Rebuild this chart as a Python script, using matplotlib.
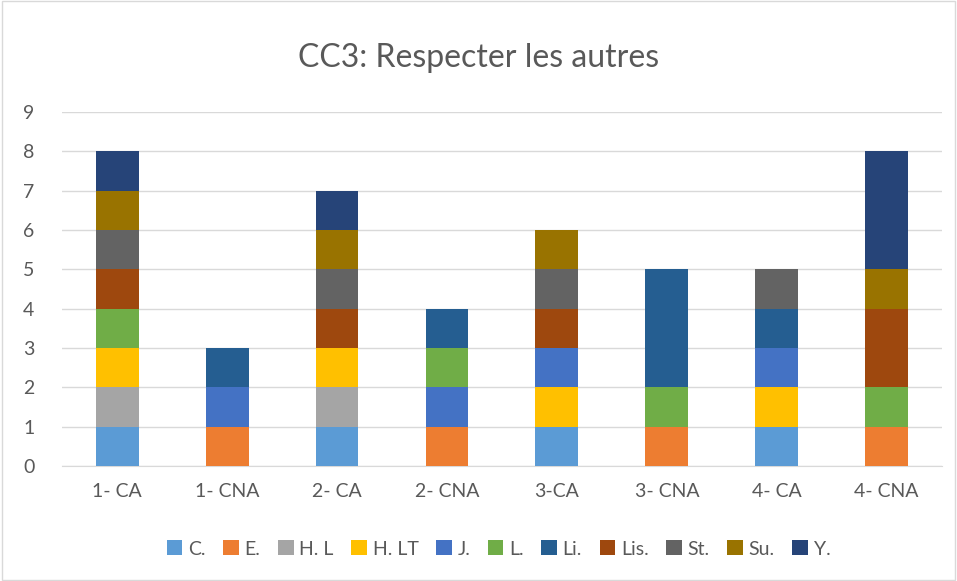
import numpy as np
import matplotlib
matplotlib.use('Agg')
from matplotlib import pyplot as plt
from matplotlib.patches import Rectangle

plt.rcParams['font.family'] = ['Lato', 'DejaVu Sans']

categories = ['1- CA', '1- CNA', '2- CA', '2- CNA', '3-CA', '3- CNA', '4- CA', '4- CNA']
series = ['C.', 'E.', 'H. L', 'H. LT', 'J.', 'L.', 'Li.', 'Lis.', 'St.', 'Su.', 'Y.']
colors = ['#5b9bd5', '#ed7d31', '#a5a5a5', '#ffc000', '#4472c4', '#70ad47',
          '#255e91', '#9e480e', '#636363', '#997300', '#264478']

C = [1, 0, 1, 0, 1, 0, 1, 0]
E = [0, 1, 0, 1, 0, 1, 0, 1]
HL = [1, 0, 1, 0, 0, 0, 0, 0]
HLT = [1, 0, 1, 0, 1, 0, 1, 0]
J = [0, 1, 0, 1, 1, 0, 1, 0]
L = [1, 0, 0, 1, 0, 1, 0, 1]
Li = [0, 1, 0, 1, 0, 3, 1, 0]
Lis = [1, 0, 1, 0, 1, 0, 0, 2]
St = [1, 0, 1, 0, 1, 0, 1, 0]
Su = [1, 0, 1, 0, 1, 0, 0, 1]
Y = [1, 0, 1, 0, 0, 0, 0, 3]
values = [C, E, HL, HLT, J, L, Li, Lis, St, Su, Y]

txt = '#595959'
fig = plt.figure(figsize=(9.57, 5.81), dpi=100)
fig.patches.append(Rectangle((0.002, 0.002), 0.996, 0.996, transform=fig.transFigure,
                             fill=False, edgecolor='#d9d9d9', linewidth=1))
ax = fig.add_axes([0.065, 0.198, 0.919, 0.609])

x = np.arange(len(categories))
bottom = np.zeros(len(categories))
for name, vals, col in zip(series, values, colors):
    vals = np.array(vals, dtype=float)
    ax.bar(x, vals, bottom=bottom, width=0.39, color=col, label=name, zorder=3)
    bottom += vals

ax.set_xlim(-0.5, len(categories) - 0.5)
ax.set_ylim(0, 9)
ax.set_yticks(range(10))
ax.set_xticks(x)
ax.set_xticklabels(categories)
ax.grid(axis='y', color='#d9d9d9', linewidth=1, zorder=0)
for s in ['top', 'right', 'left']:
    ax.spines[s].set_visible(False)
ax.spines['bottom'].set_color('#d9d9d9')
ax.tick_params(axis='both', length=0, colors=txt, labelsize=14)
ax.tick_params(axis='x', pad=12)
ax.tick_params(axis='y', pad=20)

fig.text(0.5, 0.9, 'CC3: Respecter les autres', ha='center', va='center', fontsize=23, color=txt)
fig.legend(loc='center', bbox_to_anchor=(0.521, 0.055), ncol=len(series), frameon=False,
           fontsize=14, labelcolor=txt, handlelength=0.8, handleheight=0.8,
           handletextpad=0.3, columnspacing=0.9)

fig.savefig('out.png', dpi=100)
